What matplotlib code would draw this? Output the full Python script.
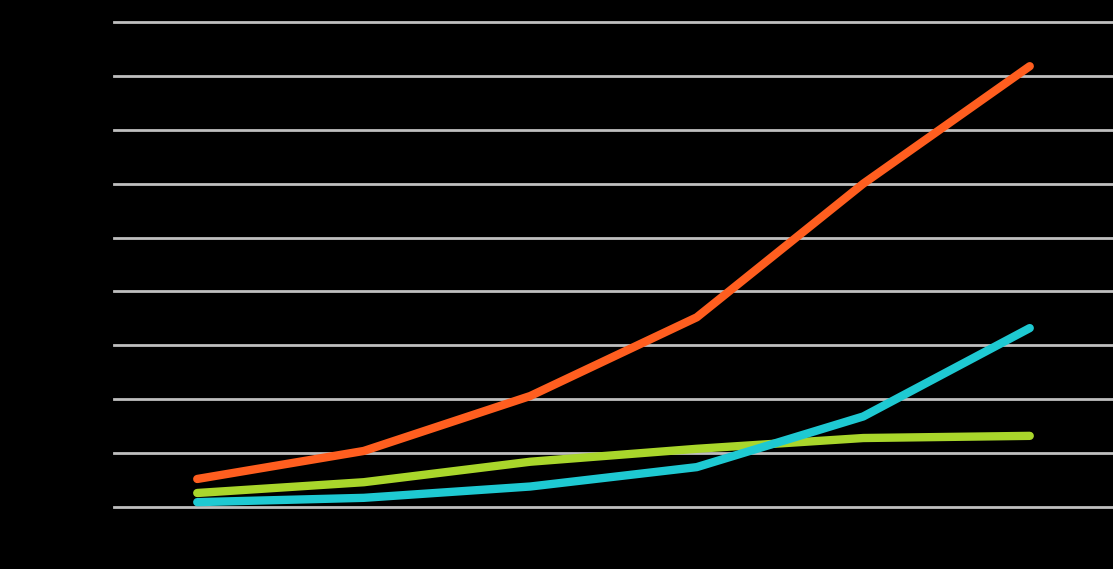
import matplotlib
matplotlib.use("Agg")
import matplotlib.pyplot as plt

# categories along x (labels are black on black in the reference)
categories = ["1", "2", "3", "4", "5", "6"]
orange_vals = [2.6, 5.2, 10.3, 17.6, 30.0, 40.9]
green_vals = [1.3, 2.3, 4.2, 5.4, 6.4, 6.6]
cyan_vals = [0.45, 0.85, 1.9, 3.7, 8.4, 16.6]
y_ticks = [0, 5, 10, 15, 20, 25, 30, 35, 40, 45]

fig = plt.figure(figsize=(11.13, 5.69), dpi=100, facecolor="black")
ax = fig.add_axes([114 / 1113, 1 - 507 / 569, 999 / 1113, (507 - 22) / 569])
ax.set_facecolor("black")

x = range(len(categories))
style = dict(lw=6, solid_capstyle="round", solid_joinstyle="round", zorder=3)
ax.plot(x, orange_vals, color="#ff5e1f", **style)
ax.plot(x, green_vals, color="#a9d62b", **style)
ax.plot(x, cyan_vals, color="#1ec9d2", **style)

ax.set_xlim(-0.5, 5.5)
ax.set_ylim(0, 45)
ax.set_yticks(y_ticks)
ax.set_xticks(list(x))
ax.set_xticklabels(categories, color="black")
ax.tick_params(axis="y", colors="black", length=0, labelsize=10)
ax.tick_params(axis="x", colors="black", length=0)
ax.grid(axis="y", color="#bfbfbf", lw=2, zorder=0)
for gl in ax.get_ygridlines():
    gl.set_clip_on(False)
for s in ax.spines.values():
    s.set_visible(False)

fig.savefig("out.png", dpi=100, facecolor="black")
